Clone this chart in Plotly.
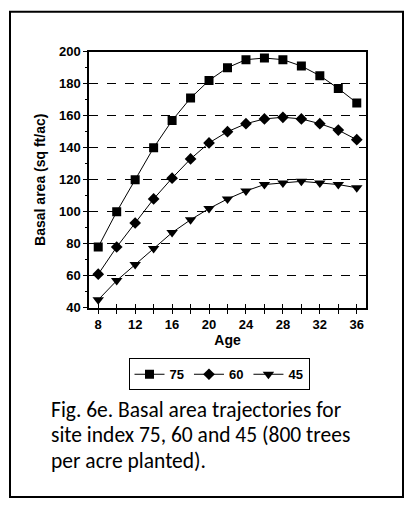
import plotly.graph_objects as go

# Stand age (years)
ages = [8, 10, 12, 14, 16, 18, 20, 22, 24, 26, 28, 30, 32, 34, 36]

# Basal area (sq ft/ac) for each site index
si_75 = [78, 100, 120, 140, 157, 171, 182, 190, 195, 196, 195, 191, 185, 177, 168]
si_60 = [61, 78, 93, 108, 121, 133, 143, 150, 155, 158, 159, 158, 155, 151, 145]
si_45 = [45, 57, 67, 77, 87, 95, 102, 108, 113, 117, 118, 119, 118, 117, 115]

series_names = ["75", "60", "45"]
x_ticks = [8, 12, 16, 20, 24, 28, 32, 36]
y_ticks = [40, 60, 80, 100, 120, 140, 160, 180, 200]

caption_lines = [
    "Fig. 6e. Basal area trajectories for",
    "site index 75, 60 and 45 (800 trees",
    "per acre planted).",
]

W, H = 409, 508
AX_FONT = "Liberation Sans, Arial, sans-serif"


def px_x(p):
    return p / W


def px_y(p):
    return 1 - p / H


fig = go.Figure()

styles = [
    dict(symbol="square", size=9),
    dict(symbol="diamond", size=9),
    dict(symbol="triangle-down", size=10),
]
for name, vals, st in zip(series_names, [si_75, si_60, si_45], styles):
    fig.add_trace(go.Scatter(
        x=ages, y=vals, name=name, mode="lines+markers",
        line=dict(color="black", width=1),
        marker=dict(color="black", symbol=st["symbol"], size=st["size"],
                    line=dict(width=0)),
    ))

xdom = [px_x(89), px_x(366)]
ydom = [px_y(310), px_y(46)]

fig.update_layout(
    width=W, height=H,
    margin=dict(l=0, r=0, t=0, b=0),
    paper_bgcolor="white", plot_bgcolor="white",
    showlegend=True,
    legend=dict(
        orientation="h", x=px_x(219), y=px_y(362), xanchor="center", yanchor="top",
        bordercolor="black", borderwidth=1, bgcolor="white",
        font=dict(family=AX_FONT, size=13, color="black", weight="bold"),
        itemwidth=30,
    ),
    xaxis=dict(
        domain=xdom, range=[7, 37], tickmode="array",
        tickvals=ages,
        ticktext=[str(a) if a in x_ticks else "" for a in ages],
        ticks="outside", ticklen=4, tickcolor="black", tickwidth=1,
        showline=True, linecolor="black", linewidth=1.5, mirror=True,
        showgrid=False, zeroline=False,
        tickfont=dict(family=AX_FONT, size=13, color="black", weight="bold"),
        title=dict(text="Age", standoff=4,
                   font=dict(family=AX_FONT, size=14, color="black", weight="bold")),
    ),
    xaxis2=dict(
        domain=xdom, range=[7, 37], overlaying="x", anchor="y",
        tickmode="array", tickvals=ages, showticklabels=False,
        ticks="inside", ticklen=4, tickcolor="black", tickwidth=1,
        showgrid=False, zeroline=False, showline=False,
    ),
    yaxis=dict(
        domain=ydom, range=[40, 200], tickmode="array", tickvals=y_ticks,
        ticks="outside", ticklen=4, tickcolor="black", tickwidth=1,
        minor=dict(dtick=10, ticks="outside", ticklen=2, tickcolor="black",
                   showgrid=False),
        showline=True, linecolor="black", linewidth=1.5, mirror=True,
        showgrid=True, gridcolor="black", gridwidth=1.2, griddash="dash",
        zeroline=False,
        tickfont=dict(family=AX_FONT, size=13, color="black", weight="bold"),
        title=dict(text="Basal area (sq ft/ac)", standoff=10,
                   font=dict(family=AX_FONT, size=14, color="black", weight="bold")),
    ),
    yaxis2=dict(
        domain=ydom, range=[40, 200], overlaying="y", anchor="x",
        tickmode="array", tickvals=y_ticks, showticklabels=False,
        ticks="inside", ticklen=4, tickcolor="black", tickwidth=1,
        showgrid=False, zeroline=False, showline=False,
    ),
)

# invisible helper trace to activate the overlay axes
fig.add_trace(go.Scatter(x=[ages[0]], y=[y_ticks[0]], xaxis="x2", yaxis="y2",
                         mode="markers", marker=dict(opacity=0),
                         showlegend=False, hoverinfo="skip"))

# outer frame around figure and caption
fig.add_shape(type="rect", xref="paper", yref="paper",
              x0=px_x(10), x1=px_x(403), y0=px_y(505), y1=px_y(5),
              line=dict(color="black", width=2))

# caption, one line per annotation for tight line spacing
for i, line in enumerate(caption_lines):
    fig.add_annotation(
        text=line, xref="paper", yref="paper",
        x=px_x(49), y=px_y(415 + 26.5 * i), xanchor="left", yanchor="middle",
        align="left", showarrow=False,
        font=dict(family="Carlito, Lato, sans-serif", size=21.5, color="black"),
    )

fig.write_html("out.html")
